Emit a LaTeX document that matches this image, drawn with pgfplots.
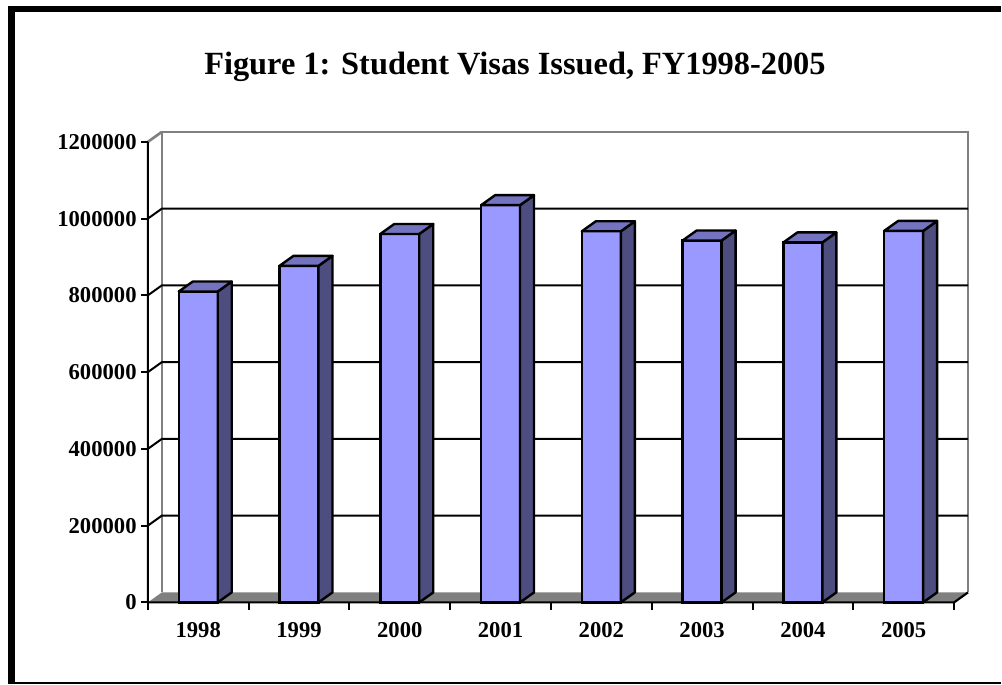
\documentclass[border=0pt]{standalone}
\usepackage{fontspec}
\setmainfont{Liberation Serif}
\usepackage{pgfplots}
\pgfplotsset{compat=1.18}
\usepackage{pgfplotstable}
\definecolor{barfront}{HTML}{9999FF}
\definecolor{barside}{HTML}{4D4D80}
\definecolor{bartop}{HTML}{7373C0}
\definecolor{wallgray}{HTML}{808080}
\newdimen\barh
% 3D side and top faces of a bar, drawn at the top centre of its front face
\pgfdeclareplotmark{bar3d}{%
  \pgfextracty{\barh}{\pgfplotspointaxisdirectionxy{0}{\val}}%
  \pgfsetlinewidth{1.8pt}\pgfsetroundjoin
  \pgfsetstrokecolor{black}\pgfsetfillcolor{barside}%
  \pgfpathmoveto{\pgfpoint{14.625pt}{0pt}}%
  \pgfpathlineto{\pgfpoint{25.125pt}{7.5pt}}%
  \pgfpathlineto{\pgfpoint{25.125pt}{7.5pt-\barh}}%
  \pgfpathlineto{\pgfpoint{14.625pt}{-\barh}}%
  \pgfpathclose
  \pgfusepath{fill,stroke}%
  \pgfsetfillcolor{bartop}%
  \pgfpathmoveto{\pgfpoint{-14.625pt}{0pt}}%
  \pgfpathlineto{\pgfpoint{14.625pt}{0pt}}%
  \pgfpathlineto{\pgfpoint{25.125pt}{7.5pt}}%
  \pgfpathlineto{\pgfpoint{-4.125pt}{7.5pt}}%
  \pgfpathclose
  \pgfusepath{fill,stroke}%
}
\pgfplotstableread{
x v
0.5 810000
1.5 877000
2.5 960000
3.5 1035000
4.5 967000
5.5 943000
6.5 938000
7.5 968000
}\visadata
\begin{document}
\begin{tikzpicture}
\path (0pt,0pt) rectangle (751.5pt,-513.75pt);
% frame of the picture
\fill[black] (6pt,-4.5pt) rectangle (11.25pt,-513.75pt);
\fill[black] (6pt,-4.5pt) rectangle (751.5pt,-9pt);
\draw[black, line width=1.5pt] (6pt,-512.6pt) -- (751.5pt,-512.6pt);
% title
\node[anchor=base, font=\fontsize{24.3pt}{28pt}\selectfont\bfseries, inner sep=0pt]
  at (386.6pt,-56.25pt) {Figure 1: Student Visas Issued, FY1998-2005};
\begin{axis}[
  set layers,
  at={(111pt,-452.25pt)}, anchor=south west,
  scale only axis, width=605.25pt, height=345.75pt,
  xmin=0, xmax=8, ymin=0, ymax=1200000,
  clip=false,
  scaled y ticks=false,
  axis line style={draw=none},
  tick style={draw=none},
  major tick length=0pt,
  xtick={0.5,1.5,2.5,3.5,4.5,5.5,6.5,7.5},
  xticklabels={1998,1999,2000,2001,2002,2003,2004,2005},
  ytick={0,200000,400000,600000,800000,1000000,1200000},
  yticklabels={0,200000,400000,600000,800000,1000000,1200000},
  ticklabel style={font=\fontsize{17pt}{20pt}\selectfont\bfseries, inner sep=0pt},
  yticklabel style={anchor=east, xshift=-8.25pt},
  xticklabel style={anchor=north, yshift=-15pt},
]
\begin{pgfonlayer}{axis background}
  % floor
  \fill[wallgray] (axis cs:0,0) -- (axis cs:8,0)
     -- ([shift={(10.5pt,7.5pt)}]axis cs:8,0) -- ([shift={(10.5pt,7.5pt)}]axis cs:0,0) -- cycle;
  % back wall frame
  \draw[wallgray, line width=2pt]
     ([shift={(10.5pt,7.5pt)}]axis cs:0,0) -- ([shift={(10.5pt,7.5pt)}]axis cs:0,1200000)
     -- ([shift={(10.5pt,7.5pt)}]axis cs:8,1200000) -- ([shift={(10.5pt,7.5pt)}]axis cs:8,0);
  \draw[wallgray, line width=2pt] (axis cs:0,1200000) -- ([shift={(10.5pt,7.5pt)}]axis cs:0,1200000);
  % gridlines on the back wall
  \pgfplotsinvokeforeach{200000,400000,600000,800000,1000000}{
    \draw[black, line width=1.5pt] (axis cs:0,#1) -- ([shift={(10.5pt,7.5pt)}]axis cs:0,#1)
       -- ([shift={(10.5pt,7.5pt)}]axis cs:8,#1);
  }
  % front axis lines
  \draw[black, line width=1.6pt] (axis cs:0,1200000) -- (axis cs:0,0) -- (axis cs:8,0)
     -- ([shift={(10.5pt,7.5pt)}]axis cs:8,0);
  \pgfplotsinvokeforeach{0,200000,400000,600000,800000,1000000,1200000}{
    \draw[black, line width=1.5pt] (axis cs:0,#1) -- ++(-5.25pt,0pt);
  }
  \pgfplotsinvokeforeach{0,1,2,3,4,5,6,7,8}{
    \draw[black, line width=1.5pt] (axis cs:#1,0) -- ++(0pt,-6pt);
  }
\end{pgfonlayer}
% front faces
\addplot[ybar, bar width=29.25pt, fill=barfront, draw=black, line width=1.8pt]
  table[x=x, y=v] {\visadata};
% side and top faces
\addplot[scatter, only marks, mark=bar3d,
  scatter/@pre marker code/.code={\pgfscope},
  scatter/@post marker code/.code={\endpgfscope},
  visualization depends on={rawy \as \val}]
  table[x=x, y=v] {\visadata};
\end{axis}
\end{tikzpicture}
\end{document}
